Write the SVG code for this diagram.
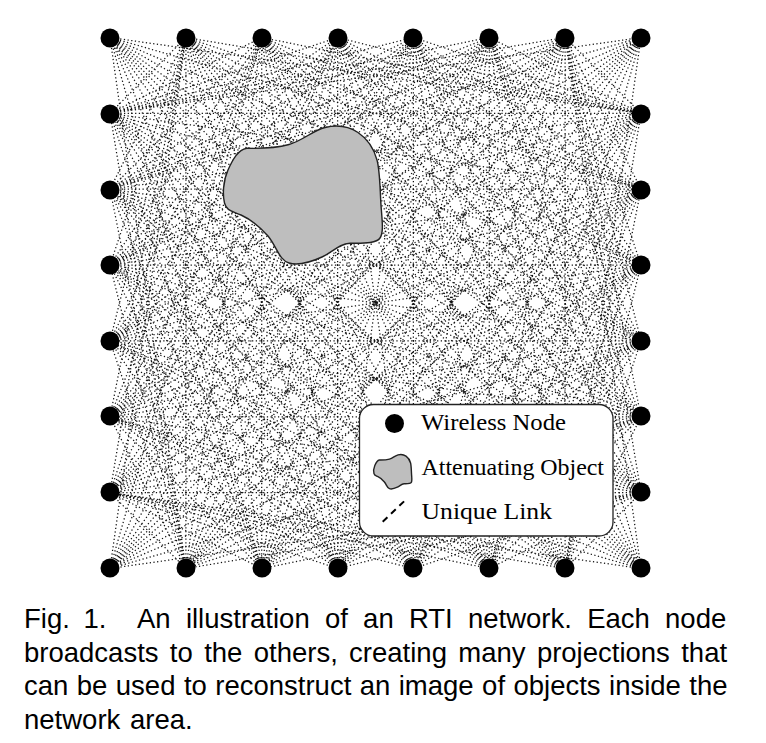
<svg xmlns="http://www.w3.org/2000/svg" xmlns:xlink="http://www.w3.org/1999/xlink" width="766" height="743" viewBox="0 0 766 743">
<style>
.link{fill:none;stroke:#111;stroke-width:1.25;stroke-dasharray:1.25 2.45;stroke-dashoffset:.8}
.node{fill:#000}
.blob{fill:#bebebe;stroke:#222;stroke-width:1.4;vector-effect:non-scaling-stroke}
.leg{font-family:"Liberation Serif","Times New Roman",serif;font-size:24px;fill:#000}
.cap{font-family:"Liberation Sans",Arial,sans-serif;font-size:27.5px;fill:#000}
</style>
<defs>
<path id="q" class="link" d="M-265.5-265.5L265.5-189.6M-265.5-265.5L265.5-113.8M-265.5-265.5L265.5-37.9M-265.5-265.5L265.5 37.9M-265.5-265.5L265.5 113.8M-265.5-265.5L265.5 189.6
M-189.6-265.5L265.5-189.6M-189.6-265.5L265.5-113.8M-189.6-265.5L265.5-37.9M-189.6-265.5L265.5 37.9M-189.6-265.5L265.5 113.8M-189.6-265.5L265.5 189.6M-189.6-265.5L265.5 265.5
M-113.8-265.5L265.5-189.6M-113.8-265.5L265.5-113.8M-113.8-265.5L265.5-37.9M-113.8-265.5L265.5 37.9M-113.8-265.5L265.5 113.8M-113.8-265.5L265.5 189.6M-113.8-265.5L265.5 265.5M-113.8-265.5L189.6 265.5
M-37.9-265.5L265.5-189.6M-37.9-265.5L265.5-113.8M-37.9-265.5L265.5-37.9M-37.9-265.5L265.5 37.9M-37.9-265.5L265.5 113.8M-37.9-265.5L265.5 189.6M-37.9-265.5L265.5 265.5M-37.9-265.5L189.6 265.5M-37.9-265.5L113.8 265.5
M37.9-265.5L265.5-189.6M37.9-265.5L265.5-113.8M37.9-265.5L265.5-37.9M37.9-265.5L265.5 37.9M37.9-265.5L265.5 113.8M37.9-265.5L265.5 189.6M37.9-265.5L265.5 265.5M37.9-265.5L189.6 265.5M37.9-265.5L113.8 265.5M37.9-265.5L37.9 265.5
M113.8-265.5L265.5-189.6M113.8-265.5L265.5-113.8M113.8-265.5L265.5-37.9M113.8-265.5L265.5 37.9M113.8-265.5L265.5 113.8M113.8-265.5L265.5 189.6M113.8-265.5L265.5 265.5M113.8-265.5L189.6 265.5M113.8-265.5L113.8 265.5M113.8-265.5L37.9 265.5M113.8-265.5L-37.9 265.5
M189.6-265.5L265.5-189.6M189.6-265.5L265.5-113.8M189.6-265.5L265.5-37.9M189.6-265.5L265.5 37.9M189.6-265.5L265.5 113.8M189.6-265.5L265.5 189.6M189.6-265.5L265.5 265.5M189.6-265.5L189.6 265.5M189.6-265.5L113.8 265.5M189.6-265.5L37.9 265.5M189.6-265.5L-37.9 265.5M189.6-265.5L-113.8 265.5"/>
<path id="d" class="link" d="M-265.5-265.5L265.5 265.5M-189.6-265.5L189.6 265.5M-113.8-265.5L113.8 265.5M-37.9-265.5L37.9 265.5M37.9-265.5L-37.9 265.5M113.8-265.5L-113.8 265.5M189.6-265.5L-189.6 265.5"/>
<path id="shape" class="blob" d="M246.7 148.3C259 148.6 276 148 289 144.5C302 141 313 130.5 325 127.5C337 124.5 349 126.5 358 132.5C367 138.5 374 149 377 160C380 171 380 190 381 205C382 220 384 232 380 238C376 244 361 243 350 243.3C339 243.6 333 252 322 257C311 262 299 266 289 263C279 260 277 247 268 236C260 227 250 219 241 215C232 211 226.5 211 224.5 203C222.5 195 223 181 228 170C233 159 238 150 246.7 148.3Z"/>
</defs>
<g id="connectors" transform="translate(375.5 303)">
<use href="#q"/>
<use href="#q" transform="rotate(90)"/>
<use href="#q" transform="rotate(180)"/>
<use href="#q" transform="rotate(270)"/>
<use href="#d"/>
<use href="#d" transform="rotate(90)"/>
</g>
<g id="object"><use href="#shape"/></g>
<g id="nodes">
<g id="n01"><circle class="node" cx="110" cy="38" r="9.5"/></g>
<g id="n02"><circle class="node" cx="186" cy="38" r="9.5"/></g>
<g id="n03"><circle class="node" cx="262" cy="38" r="9.5"/></g>
<g id="n04"><circle class="node" cx="338" cy="38" r="9.5"/></g>
<g id="n05"><circle class="node" cx="413" cy="38" r="9.5"/></g>
<g id="n06"><circle class="node" cx="489" cy="38" r="9.5"/></g>
<g id="n07"><circle class="node" cx="565" cy="38" r="9.5"/></g>
<g id="n08"><circle class="node" cx="641" cy="38" r="9.5"/></g>
<g id="n09"><circle class="node" cx="641" cy="114" r="9.5"/></g>
<g id="n10"><circle class="node" cx="641" cy="190" r="9.5"/></g>
<g id="n11"><circle class="node" cx="641" cy="265" r="9.5"/></g>
<g id="n12"><circle class="node" cx="641" cy="341" r="9.5"/></g>
<g id="n13"><circle class="node" cx="641" cy="416" r="9.5"/></g>
<g id="n14"><circle class="node" cx="641" cy="492" r="9.5"/></g>
<g id="n15"><circle class="node" cx="641" cy="568" r="9.5"/></g>
<g id="n16"><circle class="node" cx="565" cy="568" r="9.5"/></g>
<g id="n17"><circle class="node" cx="489" cy="568" r="9.5"/></g>
<g id="n18"><circle class="node" cx="413" cy="568" r="9.5"/></g>
<g id="n19"><circle class="node" cx="338" cy="568" r="9.5"/></g>
<g id="n20"><circle class="node" cx="262" cy="568" r="9.5"/></g>
<g id="n21"><circle class="node" cx="186" cy="568" r="9.5"/></g>
<g id="n22"><circle class="node" cx="110" cy="568" r="9.5"/></g>
<g id="n23"><circle class="node" cx="110" cy="492" r="9.5"/></g>
<g id="n24"><circle class="node" cx="110" cy="416" r="9.5"/></g>
<g id="n25"><circle class="node" cx="110" cy="341" r="9.5"/></g>
<g id="n26"><circle class="node" cx="110" cy="265" r="9.5"/></g>
<g id="n27"><circle class="node" cx="110" cy="190" r="9.5"/></g>
<g id="n28"><circle class="node" cx="110" cy="114" r="9.5"/></g>
</g>
<g id="legend">
<rect x="359.5" y="404.5" width="253.5" height="131.5" rx="14" fill="#fff" stroke="#222" stroke-width="1.3"/>
<circle class="node" cx="394.5" cy="423.5" r="9.5"/>
<text class="leg" x="421" y="430" textLength="145" lengthAdjust="spacingAndGlyphs">Wireless Node</text>
<use href="#shape" transform="translate(392.7 471.7) scale(.24 .25) translate(-302.5 -195)"/>
<text class="leg" x="421.5" y="474.5" textLength="182.5" lengthAdjust="spacingAndGlyphs">Attenuating Object</text>
<line x1="382.7" y1="521.7" x2="407.3" y2="498.3" stroke="#000" stroke-width="2" stroke-dasharray="6.5 5"/>
<text class="leg" x="421.5" y="519" textLength="130.5" lengthAdjust="spacingAndGlyphs">Unique Link</text>
</g>
<g id="caption">
<text class="cap" x="24" y="628" word-spacing="6">Fig. 1.<tspan x="137" word-spacing="7.6">An illustration of an RTI network. Each node</tspan></text>
<text class="cap" x="24" y="662" word-spacing="3.7">broadcasts to the others, creating many projections that</text>
<text class="cap" x="24" y="695" word-spacing=".8">can be used to reconstruct an image of objects inside the</text>
<text class="cap" x="24" y="729" word-spacing="2">network area.</text>
</g>
</svg>
